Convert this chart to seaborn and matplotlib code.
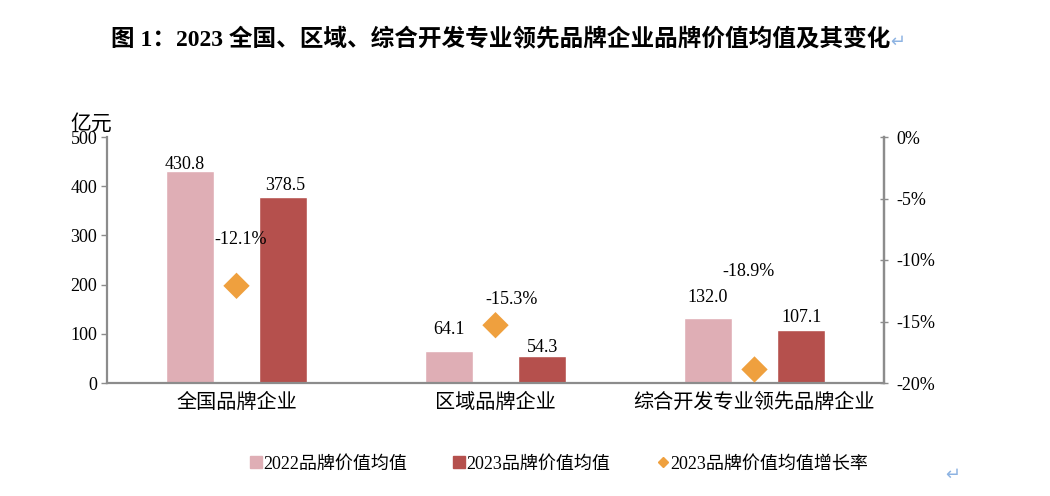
import pandas as pd
import matplotlib
matplotlib.use("Agg")
import matplotlib.pyplot as plt
from matplotlib.lines import Line2D
from matplotlib.ticker import FuncFormatter
import seaborn as sns

# data
categories = ["全国品牌企业", "区域品牌企业", "综合开发专业领先品牌企业"]
value_2022 = [430.8, 64.1, 132.0]
value_2023 = [378.5, 54.3, 107.1]
growth_2023 = [-12.1, -15.3, -18.9]
series_names = ["2022品牌价值均值", "2023品牌价值均值", "2023品牌价值均值增长率"]

# colours
PINK = "#DFAEB5"
RED = "#B5504D"
ORANGE = "#EFA03E"
GREY = "#8C8C8C"

sns.set_style("white")
plt.rcParams["font.family"] = ["Liberation Serif", "Noto Sans CJK SC", "DejaVu Sans"]
plt.rcParams["axes.unicode_minus"] = False
plt.rcParams["text.color"] = "black"
plt.rcParams["xtick.labelcolor"] = "black"
plt.rcParams["ytick.labelcolor"] = "black"

# long table for seaborn
df = pd.DataFrame({
    "category": categories * 2,
    "value": value_2022 + value_2023,
    "series": [series_names[0]] * 3 + [series_names[1]] * 3,
})

fig = plt.figure(figsize=(10.5, 4.96), dpi=100)
ax = fig.add_axes([107 / 1050, 1 - 383 / 496, (884 - 107) / 1050, (383 - 137) / 496])

sns.barplot(data=df, x="category", y="value", hue="series", order=categories,
            hue_order=series_names[:2], palette=[PINK, RED], width=0.72, gap=0.49,
            saturation=1, legend=False, ax=ax)

ax.set_ylim(0, 500)
ax.set_xlim(-0.5, 2.5)
ax.set_yticks(range(0, 501, 100))
ax.set_xlabel("")
ax.set_ylabel("")
ax.tick_params(axis="y", direction="out", length=4, width=1, color=GREY, labelsize=13, pad=3)
ax.tick_params(axis="x", length=0, labelsize=14.5, pad=8)
for side in ["left", "bottom", "right"]:
    ax.spines[side].set_color(GREY)
    ax.spines[side].set_linewidth(1.6)
ax.spines["top"].set_visible(False)

# bar value labels (per-bar vertical offset in pixels, as placed in the reference)
label_gap = [[7, 22, 21], [11, 9, 13]]
label_dx = [[-5, 0, 0], [2, 0, 0]]
for ci, cont in enumerate(ax.containers):
    for bi, patch in enumerate(cont):
        xc = patch.get_x() + patch.get_width() / 2
        h = patch.get_height()
        ax.annotate(f"{h:.1f}", (xc, h), xytext=(label_dx[ci][bi], label_gap[ci][bi]),
                    textcoords="offset pixels", ha="center", va="center", fontsize=13)

# growth rate on the secondary axis
ax2 = ax.twinx()
sns.scatterplot(x=[0, 1, 2], y=growth_2023, marker="D", s=180, color=ORANGE,
                edgecolor="none", ax=ax2, zorder=5)
ax2.set_ylim(-20, 0)
ax2.set_yticks(range(-20, 1, 5))
ax2.yaxis.set_major_formatter(FuncFormatter(lambda v, _: f"{v:.0f}%"))
ax2.tick_params(axis="y", direction="inout", length=6, width=1, color=GREY, labelsize=13, pad=6)
for side in ["left", "bottom", "top"]:
    ax2.spines[side].set_visible(False)
ax2.spines["right"].set_color(GREY)
ax2.spines["right"].set_linewidth(1.6)

pct_offset = [(4, 46), (16, 26), (-6, 98)]
for i, g in enumerate(growth_2023):
    ax2.annotate(f"{g:.1f}%", (i, g), xytext=pct_offset[i], textcoords="offset pixels",
                 ha="center", va="center", fontsize=13)

# unit label
fig.text(70 / 1050, 1 - 124 / 496, "亿元", fontsize=15, ha="left", va="center",
         family=["Noto Sans CJK SC"])

# title with paragraph mark
fig.text(890 / 1050, 1 - 40 / 496,
         "图 1：2023 全国、区域、综合开发专业领先品牌企业品牌价值均值及其变化",
         fontsize=17, fontweight="bold", ha="right", va="center")
fig.text(890 / 1050, 1 - 42 / 496, "↵", fontsize=13, color="#8DB3E2", ha="left",
         va="center", family=["DejaVu Sans"])
fig.text(945 / 1050, 1 - 475 / 496, "↵", fontsize=13, color="#8DB3E2", ha="left",
         va="center", family=["DejaVu Sans"])

# legend
handles = [
    Line2D([], [], marker="s", linestyle="none", markersize=8, color=PINK),
    Line2D([], [], marker="s", linestyle="none", markersize=8, color=RED),
    Line2D([], [], marker="D", linestyle="none", markersize=5.5, color=ORANGE),
]
fig.legend(handles, series_names, loc="center", bbox_to_anchor=(559 / 1050, 1 - 464 / 496),
           ncol=3, frameon=False, fontsize=13, handlelength=0.6, handletextpad=0.1,
           columnspacing=2.6)

fig.savefig("out.png", dpi=100)
